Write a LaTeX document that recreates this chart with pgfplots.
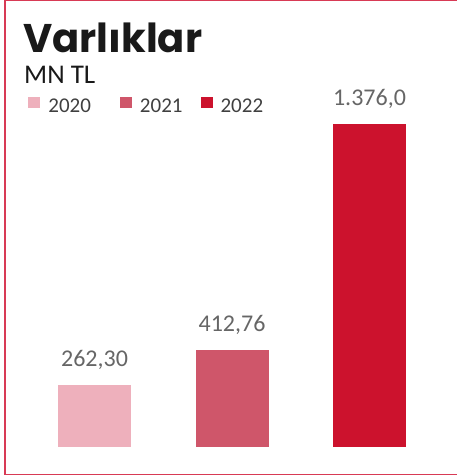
\documentclass[border=0pt]{standalone}
\usepackage{pgfplots}
\pgfplotsset{compat=1.18}
\usepackage{fontspec}
\setmainfont{Carlito}
\newfontfamily\poppins{Poppins}

\definecolor{c2020}{HTML}{EEB0BC}
\definecolor{c2021}{HTML}{CF566A}
\definecolor{c2022}{HTML}{CC122D}
\definecolor{frame}{HTML}{D83A55}
\definecolor{lblgray}{HTML}{666666}
\definecolor{leggray}{HTML}{404040}

\begin{document}
\begin{tikzpicture}[x=1pt,y=1pt]
\useasboundingbox (0,0) rectangle (456,476);
\fill[white] (0,0) rectangle (456,476);
\draw[frame, line width=1.6pt] (5,1.5) rectangle (462,475.5);

\node[anchor=base west, inner sep=0pt, text=black!90]
  at (23,423) {\poppins\bfseries\fontsize{40}{44}\selectfont Varlıklar};
\node[anchor=base west, inner sep=0pt, text=black!90]
  at (24,392) {\fontsize{27}{30}\selectfont MN TL};

\begin{axis}[
    at={(25.75pt,29pt)}, anchor=south west,
    scale only axis,
    width=412.5pt, height=399pt,
    xmin=-0.5, xmax=2.5,
    ymin=0, ymax=1700,
    hide axis,
    ybar, bar width=73pt, bar shift=0pt,
    clip=false,
    nodes near coords style={font=\fontsize{24}{28}\selectfont, text=lblgray,
                             anchor=base, yshift=19pt, inner sep=0pt},
    legend columns=3,
    legend style={draw=none, fill=none, font=\fontsize{21}{24}\selectfont,
                  text=leggray, inner sep=0pt, column sep=0pt,
                  at={(axis description cs:0.006,0.878)}, anchor=north west,
                  cells={anchor=west},
                  /tikz/every even column/.append style={column sep=0pt}},
    legend image code/.code={\fill[#1, draw=none] (0pt,-1pt) rectangle (12pt,10pt);},
  ]
  \addplot[fill=c2020, draw=none,
           nodes near coords={\pgfmathprintnumber[fixed, fixed zerofill, precision=2,
              use comma, 1000 sep={.}, assume math mode=true]{\pgfplotspointmeta}}]
      coordinates {(0,262.30)};
  \addlegendentry{\hspace*{6pt}2020\hspace*{27pt}}
  \addplot[fill=c2021, draw=none,
           nodes near coords={\pgfmathprintnumber[fixed, fixed zerofill, precision=2,
              use comma, 1000 sep={.}, assume math mode=true]{\pgfplotspointmeta}}]
      coordinates {(1,412.76)};
  \addlegendentry{\hspace*{6pt}2021\hspace*{16pt}}
  \addplot[fill=c2022, draw=none,
           nodes near coords={\pgfmathprintnumber[fixed, fixed zerofill, precision=1,
              use comma, 1000 sep={.}, assume math mode=true]{\pgfplotspointmeta}}]
      coordinates {(2,1376.0)};
  \addlegendentry{\hspace*{6pt}2022}
\end{axis}
\end{tikzpicture}
\end{document}
